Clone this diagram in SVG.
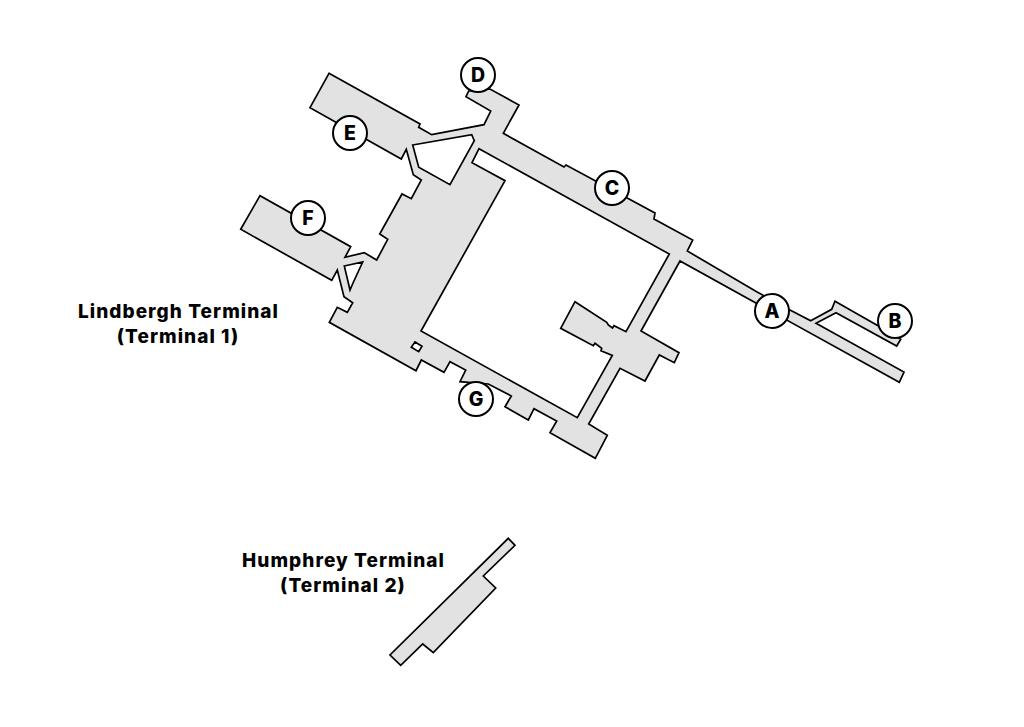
<svg xmlns="http://www.w3.org/2000/svg" width="1024" height="727" viewBox="0 0 1024 727">
<style>
.plan{fill:#e2e2e2;stroke:#000;stroke-width:1.7;stroke-linejoin:miter;fill-rule:evenodd}
.pin{fill:#fff;stroke:#000;stroke-width:2}
.pt{font-family:Inter,"Liberation Sans",sans-serif;font-weight:800;font-size:19.5px;fill:#000;text-anchor:middle}
.lab{font-family:Inter,"Liberation Sans",sans-serif;font-weight:800;font-size:19px;letter-spacing:1.05px;fill:#000;text-anchor:middle}
</style>
<rect width="1024" height="727" fill="#fff"/>
<g id="terminal-1">
<path class="plan" d="M329,73.3 L420,124 L418.7,127.3 L431.7,134.7 L484,124.7 L490.7,111 L466,96.7 L468.7,91 L490,89 L519,105 L503.3,133.3 L564,167 L566,165 L655,213 L654,219 L692.7,240 L687.3,251 L756.7,291.7 L790,310 L810.7,320.7 L831.7,309.3 L835,301.3 L876.7,325 L900.7,339.3 L896.7,346 L836,312.7 L816,323.3 L904,372 L899.3,382.3 L680,261 L641,331 L679,352.7 L674.3,362.7 L659.3,355 L645,381 L620,368.3 L588.7,424 L607.3,435.3 L595.3,458.3 L550,432.7 L556.7,421 L534,408.7 L528.3,420 L505,406.7 L511.3,396 L488.3,384 L460,381.7 L465.7,370 L450,361.7 L444,372.3 L421.3,360 L416,370.7 L329.3,322.3 L337.3,307.3 L347.3,312.3 L352.7,302.7 L344,296.7 L337.3,270 L331.7,280.3 L240.7,229.3 L260,195.7 L350.7,246.7 L345,257.3 L364.3,252.7 L376.7,260 L387.7,239.3 L379.7,234 L402,194 L411.3,198.7 L421.3,180 L413.3,174.7 L406.3,149.3 L401.3,159 L310,107.7 Z
M472,162.7 L479,148.7 L669.3,254 L626,331.7 L614,325.7 L612.5,328 L608.3,325 L606.7,322.3 L575,301.7 L560.7,328.3 L593.3,345.7 L595,343.3 L601.7,348.3 L601,350.7 L612.3,355.5 L577.3,417.7 L421,331 L505,180.7 Z
M412.7,145 L471.7,134.7 L474.3,140.7 L450,184.7 L418.7,167.3 Z
M344.3,266 L362.7,262 L353,283 L350,290 Z
M411.3,347.3 L415,342 L422,346.3 L418.7,351.7 Z"/>
</g>
<g id="terminal-2">
<path class="plan" d="M508.3,538.3 L515,545.3 L483.3,576 L495.7,588 L433.3,652.7 L422.7,644 L400.7,665.3 L390,655 Z"/>
</g>
<g id="gate-a"><circle class="pin" cx="772" cy="311" r="17"/><text class="pt" x="772" y="318">A</text></g>
<g id="gate-b"><circle class="pin" cx="895" cy="321" r="17"/><text class="pt" x="895" y="328">B</text></g>
<g id="gate-c"><circle class="pin" cx="612" cy="188" r="17"/><text class="pt" x="612" y="195">C</text></g>
<g id="gate-d"><circle class="pin" cx="478" cy="75" r="17"/><text class="pt" x="478" y="82">D</text></g>
<g id="gate-e"><circle class="pin" cx="350" cy="133" r="17"/><text class="pt" x="350" y="140">E</text></g>
<g id="gate-f"><circle class="pin" cx="308" cy="218" r="17"/><text class="pt" x="308" y="225">F</text></g>
<g id="gate-g"><circle class="pin" cx="476" cy="399" r="17"/><text class="pt" x="476" y="406">G</text></g>
<g id="labels">
<text class="lab" x="178.500" y="318">Lindbergh Terminal</text>
<text class="lab" x="178" y="343">(Terminal 1)</text>
<text class="lab" x="343.500" y="567">Humphrey Terminal</text>
<text class="lab" x="343" y="592">(Terminal 2)</text>
</g>
<g id="connectors"></g>
</svg>
